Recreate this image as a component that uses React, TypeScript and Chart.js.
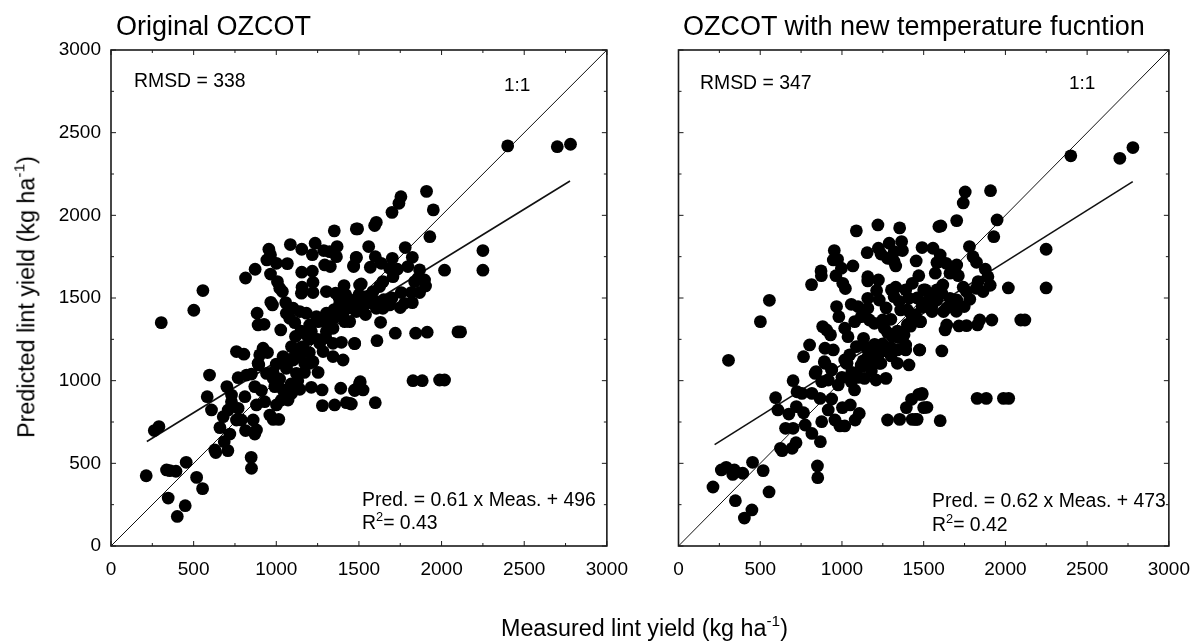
import React, { useEffect, useRef } from "react";
import { Chart, registerables } from "chart.js";

Chart.register(...registerables);

type Pt = [number, number];

const origPoints: Pt[] = [
  [304,1351],[501,1426],[556,1545],[814,1621],[872,1674],[955,1795],[965,1762],[943,1730],[1001,1710],[1067,1708],
  [1085,1823],[1154,1795],[1235,1831],[1218,1762],[1287,1787],[1323,1780],[1368,1811],[1364,1750],[1293,1700],[1327,1690],
  [1351,1906],[1484,1918],[1484,1746],[1468,1696],[965,1645],[1154,1656],[1218,1662],[1007,1599],[1021,1559],[1037,1539],
  [1222,1595],[1156,1565],[1152,1529],[1222,1533],[1303,1539],[1359,1529],[1410,1575],[1504,1579],[967,1474],[977,1458],
  [1057,1472],[884,1408],[1061,1408],[1102,1438],[1142,1418],[1081,1377],[1112,1351],[1182,1408],[1243,1387],[1303,1408],
  [1202,1337],[1212,1297],[1253,1357],[890,1337],[926,1341],[1027,1307],[1116,1267],[1384,1468],[1424,1488],[1464,1448],
  [1404,1408],[1414,1357],[1343,1317],[1303,1297],[1394,1232],[1474,1226],[759,1176],[804,1160],[920,1196],[947,1170],
  [900,1156],[890,1105],[1092,1206],[1162,1206],[1041,1146],[1222,1115],[1102,1125],[1142,1146],[1263,1226],[1283,1176],
  [1343,1146],[1404,1125],[1343,1226],[1172,1105],[1061,1085],[1200,1170],[1120,1180],
  [1909,2145],[1754,2113],[1742,2073],[1700,2018],[1950,2033],[1605,1958],[1595,1938],[1492,1918],[1929,1871],[1559,1811],
  [1780,1805],[2250,1787],[2018,1668],[2250,1668],[1484,1744],[1599,1750],[1702,1740],[1823,1746],[1468,1690],[1569,1686],
  [1635,1710],[1686,1680],[1732,1674],[1706,1629],[1796,1690],[1867,1670],[1857,1619],[1897,1609],[1903,1573],[1837,1599],
  [1867,1533],[1817,1533],[1756,1533],[1514,1585],[1645,1599],[1585,1539],[1625,1569],[1823,1472],[1750,1442],[1776,1468],
  [1686,1458],[1645,1438],[1605,1438],[1565,1478],[1525,1448],[1484,1418],[1464,1448],[1444,1490],[1504,1498],[1545,1508],
  [1631,1353],[1720,1287],[1843,1287],[1913,1293],[2099,1295],[2115,1295],[1474,1224],[1609,1242],[1444,1357],
  [2400,2420],[2700,2415],[2780,2430],
  [596,1034],[769,1018],[820,1034],[850,1040],[701,964],[582,903],[608,823],[290,722],[262,698],[870,964],
  [910,940],[894,1095],[941,1044],[981,1014],[991,964],[1122,1044],[1061,1075],[1202,1105],[1253,1050],[1142,948],
  [1212,960],[1277,944],[1390,954],[1474,940],[1504,984],[1279,849],[1353,853],[1424,867],[1454,859],[1001,853],
  [1071,883],[1041,944],[1092,923],[1031,883],[930,873],[880,853],[810,903],[729,913],[729,873],[769,833],
  [709,823],[679,782],[759,762],[789,762],[659,716],[961,792],[981,766],[1015,766],[860,762],[814,698],
  [880,702],[870,677],[719,677],[685,631],[628,581],[634,565],[707,577],[848,536],[850,470],[455,506],
  [336,460],[356,456],[393,452],[213,425],[518,415],[554,347],[346,290],[449,244],[401,179],
  [1508,994],[1474,944],[1525,944],[1444,863],[1599,867],[1827,1000],[1883,1000],[1988,1004],[2018,1004],
  [1300,1350],[1350,1380],[1400,1420],[1450,1440],[1500,1460],[1550,1470],[1600,1480],[1650,1490],[1700,1500],[1350,1430],
  [1400,1460],[1450,1480],[1500,1520],[1420,1520],[1380,1500],[1250,1250],[1300,1260],[1200,1250],[1150,1200],[1100,1130],
  [1050,1120],[1000,1100],[980,1050],[1150,1300],[1180,1280],[1020,1010],[1130,1000],[1170,1050],[1090,980],[1540,1400],
];

const newPoints: Pt[] = [
  [306,1123],[501,1357],[556,1486],[814,1581],[872,1664],[874,1635],[953,1787],[947,1730],[973,1734],[997,1680],
  [1067,1694],[963,1635],[1005,1589],[1021,1557],[1088,1906],[1220,1942],[1353,1924],[1154,1774],[1223,1801],[1289,1831],
  [1239,1766],[1279,1740],[1319,1720],[1329,1694],[1365,1841],[1370,1787],[1319,1780],[1490,1805],[1454,1724],[1470,1635],
  [1158,1629],[1158,1603],[1223,1609],[1212,1545],[1303,1549],[1329,1565],[1319,1508],[1430,1589],[1390,1549],[1410,1498],
  [1500,1549],[1158,1498],[1228,1488],[967,1448],[981,1387],[1057,1462],[1098,1448],[1118,1387],[1158,1438],[1168,1367],
  [1078,1357],[1017,1317],[1037,1266],[882,1327],[906,1307],[930,1277],[1132,1256],[1198,1347],[1249,1367],[1299,1371],
  [1259,1317],[1309,1266],[1380,1277],[1359,1428],[1400,1428],[1430,1387],[1480,1357],[1500,1448],[802,1216],[765,1145],
  [896,1196],[947,1186],[892,1115],[937,1069],[842,1055],[1088,1206],[1047,1156],[1017,1125],[1031,1105],[1249,1222],
  [1188,1176],[1158,1145],[1238,1105],[1339,1186],[1390,1216],[1390,1186],[1474,1186],[1410,1095],[1339,1105],[1118,1085],
  [1754,2141],[1909,2149],[1742,2075],[1702,1968],[1949,1972],[1605,1936],[1593,1932],[1929,1871],[2249,1795],[1780,1811],
  [1802,1750],[1823,1716],[1557,1801],[1601,1760],[1581,1714],[1637,1710],[1702,1700],[1661,1650],[1712,1635],[1571,1650],
  [1877,1674],[1893,1629],[1833,1599],[1907,1577],[1863,1539],[1822,1559],[2018,1561],[2249,1561],[1742,1565],[1762,1539],
  [1782,1492],[1748,1448],[1702,1488],[1661,1498],[1671,1448],[1617,1579],[1581,1549],[1510,1549],[1561,1518],[1611,1528],
  [1490,1448],[1551,1418],[1621,1418],[1581,1488],[1480,1357],[1641,1337],[1631,1307],[1716,1331],[1762,1333],[1829,1337],
  [1843,1367],[1917,1367],[2094,1367],[2119,1367],[1476,1186],[1611,1180],
  [2400,2360],[2700,2345],[2780,2410],
  [836,1044],[896,1105],[937,1065],[1027,1105],[876,994],[916,1004],[977,974],[1057,994],[1077,944],[1138,1014],
  [1208,1004],[1269,1014],[1118,1095],[1178,1095],[1228,1105],[701,1000],[725,933],[755,923],[816,923],[866,893],
  [937,889],[916,823],[594,897],[608,823],[721,843],[675,798],[765,806],[775,732],[816,681],[655,712],
  [701,712],[876,752],[957,762],[987,726],[1017,726],[868,631],[1003,837],[1051,853],[1106,802],[1081,762],
  [1279,762],[1353,766],[1430,766],[1450,766],[1394,837],[1426,887],[1470,917],[1490,917],[1500,837],[719,625],
  [695,591],[624,591],[634,577],[850,484],[852,413],[453,506],[262,460],[292,476],[342,460],[332,433],
  [393,440],[518,456],[211,357],[554,327],[348,274],[449,218],[403,169],
  [1490,923],[1520,839],[1460,766],[1601,758],[1827,893],[1883,893],[1988,893],[2020,893],
  [1150,1200],[1200,1220],[1220,1150],[1250,1180],[1300,1200],[1300,1150],[1280,1290],[1340,1300],[1350,1260],[1420,1330],
  [1450,1400],[1400,1340],[1550,1450],[1520,1480],[1460,1500],[1640,1440],[1700,1420],[1130,1120],[1180,1060],[1100,1020],
  [1000,1020],[1060,1050],[1350,1480],[1270,1440],
];

const identityLine: Pt[] = [[0, 0], [3000, 3000]];
const origFit: Pt[] = [[217, 632], [2777, 2208]];
const newFit: Pt[] = [[221, 613], [2779, 2204]];

const axisMax = 3000;
const majorStep = 500;
const minorStep = 250;
const FONT = '"Liberation Sans", Arial, sans-serif';
const INK = "#1a1a1a";

const frameTicks = {
  id: "frameTicks",
  afterDatasetsDraw(chart: any) {
    const { ctx, chartArea: a, scales } = chart;
    ctx.save();
    ctx.strokeStyle = INK;
    ctx.lineWidth = 1;
    for (let v = 0; v <= axisMax; v += minorStep) {
      const len = v % majorStep === 0 ? 5 : 3;
      const x = scales.x.getPixelForValue(v);
      const y = scales.y.getPixelForValue(v);
      ctx.beginPath();
      ctx.moveTo(x, a.bottom); ctx.lineTo(x, a.bottom - len);
      ctx.moveTo(x, a.top); ctx.lineTo(x, a.top + len);
      ctx.moveTo(a.left, y); ctx.lineTo(a.left + len, y);
      ctx.moveTo(a.right, y); ctx.lineTo(a.right - len, y);
      ctx.stroke();
    }
    ctx.lineWidth = 1.6;
    ctx.strokeRect(a.left, a.top, a.right - a.left, a.bottom - a.top);
    ctx.restore();
  },
};

function Panel({ points, fit, showY, left, width, plotLeft, plotRight }: {
  points: Pt[]; fit: Pt[]; showY: boolean; left: number; width: number; plotLeft: number; plotRight: number;
}) {
  const ref = useRef<HTMLCanvasElement>(null);
  useEffect(() => {
    const toXY = (p: Pt[]) => p.map(([x, y]) => ({ x, y }));
    const axisFont = { family: FONT, size: 19 };
    const plain = (v: any) => String(v);
    const chart = new Chart(ref.current!, {
      type: "scatter",
      data: {
        datasets: [
          { data: toXY(points), backgroundColor: "#000", borderWidth: 0, pointRadius: 6.4, order: 1 },
          { data: toXY(identityLine), showLine: true, borderColor: "#111", borderWidth: 1, pointRadius: 0, order: 2 },
          { data: toXY(fit), showLine: true, borderColor: "#111", borderWidth: 1.6, pointRadius: 0, order: 2 },
        ],
      },
      options: {
        responsive: false,
        animation: false,
        events: [],
        layout: { autoPadding: false, padding: { top: 50, right: width - plotRight, left: 0, bottom: 0 } },
        plugins: { legend: { display: false }, tooltip: { enabled: false }, title: { display: false } },
        scales: {
          x: {
            type: "linear", min: 0, max: axisMax,
            grid: { display: false, drawTicks: false },
            border: { display: false },
            ticks: { stepSize: majorStep, font: axisFont, color: "#000", padding: 12, maxRotation: 0, callback: plain },
            afterFit: (s: any) => { s.height = 95; },
          },
          y: {
            type: "linear", min: 0, max: axisMax,
            grid: { display: false, drawTicks: false },
            border: { display: false },
            ticks: { stepSize: majorStep, font: axisFont, color: "#000", padding: 10, display: showY, callback: plain },
            afterFit: (s: any) => { s.width = plotLeft; },
          },
        },
      },
      plugins: [frameTicks],
    } as any);
    return () => chart.destroy();
  }, []);
  return <canvas ref={ref} width={width} height={641} style={{ position: "absolute", left, top: 0, width, height: 641 }} />;
}

const txt = (left: number, top: number, size: number): React.CSSProperties => ({
  position: "absolute", left, top, fontSize: size, lineHeight: 1, whiteSpace: "nowrap", color: "#000",
});
const sup: React.CSSProperties = { fontSize: "0.66em", verticalAlign: "baseline", position: "relative", top: "-0.62em" };

export default function App() {
  return (
    <div style={{ position: "absolute", left: 0, top: 0, width: 1202, height: 641, background: "#fff", overflow: "hidden", fontFamily: FONT }}>
      <Panel points={origPoints} fit={origFit} showY left={0} width={640} plotLeft={111} plotRight={607.5} />
      <Panel points={newPoints} fit={newFit} showY={false} left={640} width={562} plotLeft={38.5} plotRight={534.5} />

      <div style={txt(116, 13, 27)}>Original OZCOT</div>
      <div style={txt(683, 13, 27)}>OZCOT with new temperature fucntion</div>

      <div style={txt(134, 71, 19.4)}>RMSD = 338</div>
      <div style={txt(504, 75, 19)}>1:1</div>
      <div style={txt(362, 490, 19.4)}>Pred. = 0.61 x Meas. + 496</div>
      <div style={txt(362, 513, 19.4)}>R<span style={sup}>2</span>= 0.43</div>

      <div style={txt(700, 73, 19.4)}>RMSD = 347</div>
      <div style={txt(1069, 73, 19)}>1:1</div>
      <div style={txt(932, 491, 19.4)}>Pred. = 0.62 x Meas. + 473</div>
      <div style={txt(932, 515, 19.4)}>R<span style={sup}>2</span>= 0.42</div>

      <div style={txt(501, 617, 23.3)}>Measured lint yield (kg ha<span style={sup}>-1</span>)</div>
      <div style={{ ...txt(27, 297, 23.3), transform: "translate(-50%, -50%) rotate(-90deg)" }}>
        Predicted lint yield (kg ha<span style={sup}>-1</span>)
      </div>
    </div>
  );
}
